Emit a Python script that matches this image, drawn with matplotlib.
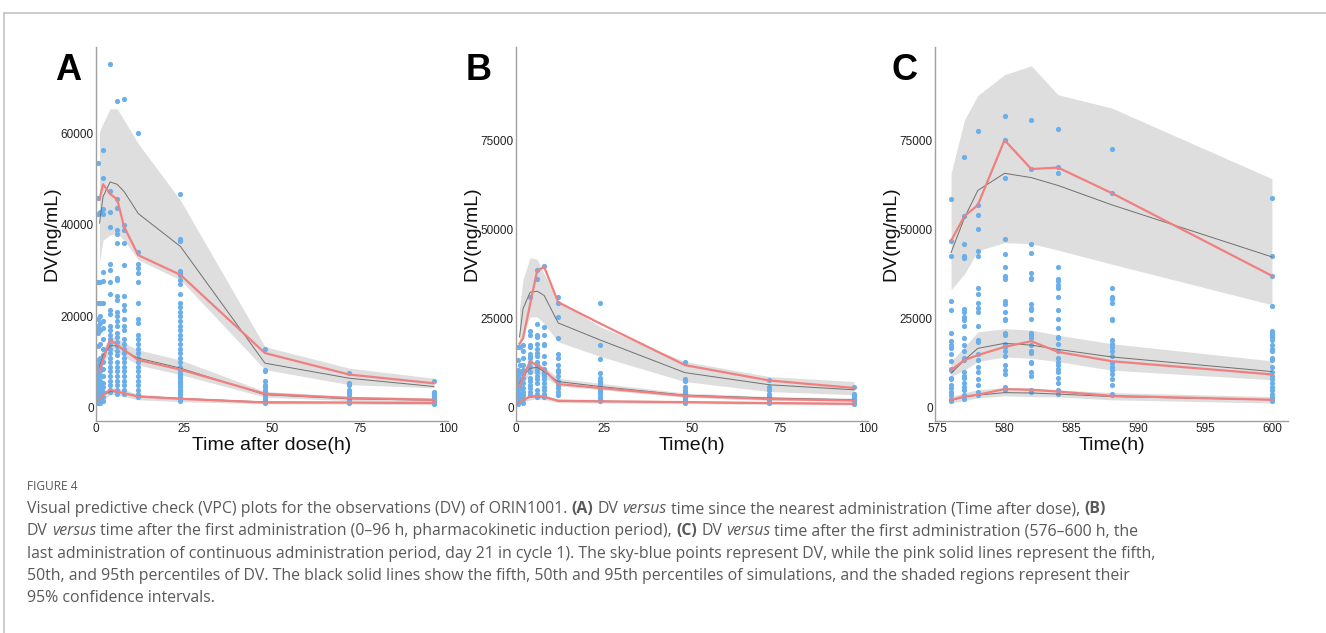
import re
import matplotlib
matplotlib.use("Agg")
import matplotlib.pyplot as plt
from matplotlib.lines import Line2D

plt.rcParams['font.family'] = ['Liberation Sans', 'DejaVu Sans']

# ---------------- Panel A data (time after dose) ----------------
a_obs_t = [0.5, 1, 2, 4, 6, 8, 12, 24, 48, 72, 96]
a_obs_v = [
    [53500, 46000, 42500, 27500, 23000, 19500, 18000, 17000, 16500, 13500, 10500, 9500, 8500, 7500,
     6500, 5500, 4500, 3500, 3000, 2500, 2000, 1500, 1200],
    [42800, 27500, 23000, 20000, 18500, 17000, 14000, 11000, 10000, 9000, 8000, 7000, 6000, 5000,
     4000, 3200, 2500, 1800, 1200],
    [56500, 50300, 43500, 42500, 29800, 27800, 23000, 19000, 17500, 15000, 13000, 11500, 10000, 8500,
     7000, 5500, 4500, 3500, 2500, 1500],
    [75200, 47500, 42800, 39500, 31500, 30200, 27600, 25000, 21500, 20500, 18000, 17000, 16000, 15000,
     14000, 13000, 12000, 11000, 10000, 9000, 8000, 7000, 6000, 5000, 4000, 3500],
    [67000, 45600, 43700, 38800, 38000, 36000, 28500, 28000, 24500, 23500, 21000, 20000, 19000, 18000,
     16500, 15500, 14500, 13500, 12500, 11500, 10000, 9000, 8000, 7000, 6000, 5000, 4000, 3000],
    [67500, 40000, 39000, 36000, 31300, 24500, 22500, 21500, 19500, 18000, 17000, 15000, 14000, 13000,
     12000, 11000, 10000, 9000, 8000, 7000, 6000, 5000, 4000, 3000],
    [60000, 34000, 31500, 30500, 29500, 27500, 23000, 19500, 18500, 16000, 15000, 14000, 13000, 12000,
     11000, 10000, 9000, 8000, 7000, 6000, 5000, 4000, 3000, 2500],
    [46800, 37000, 36500, 30000, 29500, 29000, 28000, 27000, 25000, 23000, 22000, 21000, 20000, 19000,
     18000, 17000, 16000, 15000, 14000, 13000, 12000, 11000, 10000, 9000, 8500, 8000, 7500, 7000, 6500,
     6000, 5500, 5000, 4500, 4000, 3500, 3000, 2500, 2000, 1500],
    [12800, 8300, 8000, 6000, 5000, 4500, 4000, 3500, 3000, 2500, 2000, 1500, 1000],
    [7700, 5500, 5000, 4000, 3500, 3000, 2500, 2000, 1500, 1000],
    [5800, 3600, 3300, 3000, 2600, 2300, 2000, 1700, 1400, 1100, 900],
]
a_bin_t = [1, 2, 4, 6, 8, 12, 24, 48, 72, 96]
a_p95_obs = [45600, 48900, 46800, 45600, 39600, 33400, 29100, 12000, 7300, 5400]
a_p95_sim = [40400, 46200, 49400, 48900, 47300, 42500, 35300, 9800, 6500, 4700]
a_p95_lo = [32000, 36700, 37800, 38200, 36700, 32400, 28000, 8400, 5100, 4400]
a_p95_hi = [60400, 62200, 65400, 65400, 62900, 57800, 45400, 13400, 8700, 6500]
a_p50_obs = [8000, 10500, 14900, 13800, 12700, 10500, 8400, 3100, 2200, 1800]
a_p50_sim = [9000, 11500, 13600, 13600, 12500, 10900, 8700, 2900, 2000, 1700]
a_p50_lo = [7500, 9500, 12400, 12300, 11200, 9400, 7300, 2400, 1600, 1300]
a_p50_hi = [10500, 13000, 15600, 15400, 14200, 12700, 10500, 3600, 2500, 2200]
a_p05_obs = [1800, 2800, 4000, 3600, 3200, 2500, 2000, 1200, 1200, 1100]
a_p05_sim = [2000, 2800, 3600, 3500, 3200, 2600, 2100, 1300, 1200, 1000]
a_p05_lo = [1200, 1800, 2900, 2800, 2500, 1800, 1400, 900, 850, 700]
a_p05_hi = [2800, 3600, 4400, 4300, 4000, 3000, 2400, 1600, 1450, 1300]

# ---------------- Panel B data (0-96 h) ----------------
b_obs_t = [0.5, 1, 2, 4, 6, 8, 12, 24, 48, 72, 96]
b_obs_v = [
    [17000, 13500, 10500, 10000, 9500, 9000, 8500, 8000, 7500, 7000, 6000, 5000, 4000, 3500, 3000,
     2500, 2000, 1500, 1000],
    [17000, 12000, 10000, 8000, 7000, 5500, 4000, 3000, 2000],
    [17500, 16000, 14000, 12000, 10500, 9500, 8500, 7000, 5500, 4500, 3500, 2500, 1500],
    [31000, 21500, 20500, 17500, 17000, 15000, 14500, 14000, 13000, 11500, 10000, 8500, 7500, 6500,
     5500, 4500, 3500],
    [38500, 36000, 23500, 20500, 20000, 18000, 16500, 15500, 14500, 13000, 12000, 11000, 10000, 9000,
     8000, 7000, 5000, 4000, 3000],
    [39700, 22600, 20500, 18000, 17500, 14500, 12500, 11000, 10000, 9500, 9000, 8000, 7000, 6000,
     5000, 4000, 3000],
    [31000, 29500, 25500, 19500, 15000, 14000, 12000, 10500, 10000, 9000, 7500, 6500, 5500, 4500, 3500],
    [29400, 17500, 13700, 9700, 8400, 7500, 7000, 6500, 5500, 5000, 4500, 4000, 3000, 2500, 2000],
    [13000, 8000, 7500, 6000, 5000, 4500, 4000, 3500, 3000, 2500, 2000, 1500],
    [7700, 6000, 5000, 4000, 3500, 3000, 2500, 2000, 1500],
    [5800, 3800, 3500, 3000, 2500, 2000, 1500, 1200],
]
b_bin_t = [1, 2, 4, 6, 8, 12, 24, 48, 72, 96]
b_p95_obs = [18000, 19500, 29000, 38400, 39500, 29600, 23600, 12000, 7700, 5600]
b_p95_sim = [19900, 27800, 32400, 32700, 31500, 23800, 19000, 9900, 6500, 5100]
b_p95_lo = [15700, 20800, 25500, 25500, 23600, 18500, 14400, 7400, 4600, 3700]
b_p95_hi = [28000, 36000, 42100, 41600, 37500, 30100, 22700, 13000, 8800, 7400]
b_p50_obs = [6000, 8800, 13000, 12000, 10700, 6700, 5600, 3400, 2500, 2100]
b_p50_sim = [6900, 9000, 11100, 11400, 10200, 7400, 6000, 3600, 2800, 2300]
b_p50_lo = [5100, 7000, 9700, 9700, 8800, 6200, 5100, 3000, 2100, 1800]
b_p50_hi = [8800, 10500, 12500, 12800, 11600, 8300, 6900, 4200, 3200, 2800]
b_p05_obs = [1400, 2300, 3200, 3400, 3100, 2000, 1850, 1650, 1400, 1200]
b_p05_sim = [1500, 2300, 3000, 3200, 3000, 2100, 1900, 1600, 1300, 1150]
b_p05_lo = [1000, 1500, 2300, 2500, 2300, 1500, 1400, 1200, 950, 850]
b_p05_hi = [2100, 2900, 3700, 3900, 3700, 2600, 2400, 2000, 1700, 1500]

# ---------------- Panel C data (576-600 h) ----------------
c_obs_t = [576, 577, 578, 580, 582, 584, 588, 600]
c_obs_v = [
    [58500, 46800, 42500, 30000, 27500, 21000, 18700, 17500, 16800, 15000, 13200, 11000, 10500, 8500,
     8000, 6500, 5500, 4500, 3500, 2500, 2000],
    [70200, 53700, 46000, 42500, 42000, 27700, 27000, 25500, 24500, 23000, 19700, 17700, 16000, 14000,
     13500, 10000, 9000, 8500, 7000, 6000, 5000, 3500, 2500],
    [77600, 56800, 53900, 50200, 44000, 42500, 33500, 32000, 29500, 28000, 27000, 23000, 19000, 18500,
     15000, 13500, 11500, 10000, 8000, 6500, 4500, 3500],
    [81800, 75100, 64500, 47200, 43000, 39500, 37000, 36000, 30000, 29000, 27000, 25000, 24500, 21000,
     20500, 18000, 17000, 16000, 14500, 12000, 10500, 9500, 6000, 5000],
    [80500, 66800, 45800, 43500, 37700, 36500, 36000, 29000, 28000, 27500, 25000, 21000, 20500, 19500,
     17500, 16000, 15500, 13000, 12500, 10000, 9000, 5000, 4500],
    [78000, 67400, 65700, 39500, 36000, 35500, 34500, 33500, 31000, 27500, 25000, 22500, 20000, 19500,
     18000, 16000, 14000, 13000, 12000, 11000, 10000, 8500, 7000, 5000, 4000],
    [72500, 60200, 33600, 31000, 30500, 29500, 25000, 24500, 19000, 18000, 17000, 16000, 14500, 12500,
     11500, 10500, 9500, 8000, 6500, 4000, 3500],
    [58800, 42500, 37000, 28500, 21500, 21000, 20500, 20000, 19000, 17500, 16500, 16000, 14000, 13500,
     11500, 10000, 9000, 8000, 7000, 6000, 5000, 4000, 3000, 2500, 2000],
]
c_bin_t = [576, 577, 578, 580, 582, 584, 588, 600]
c_p95_obs = [46800, 53700, 56800, 75000, 66900, 67300, 60200, 37000]
c_p95_sim = [43500, 53200, 60900, 65700, 64500, 62300, 56900, 42300]
c_p95_lo = [33100, 37500, 44000, 46300, 46000, 44200, 40300, 28900]
c_p95_hi = [65700, 80600, 87500, 93300, 95800, 87700, 84000, 64200]
c_p50_obs = [10600, 13400, 14800, 17100, 18700, 15700, 13100, 9400]
c_p50_sim = [9700, 13400, 16700, 18100, 17600, 16400, 14300, 10200]
c_p50_lo = [8800, 10600, 13000, 14300, 13900, 13000, 10600, 7900]
c_p50_hi = [13000, 17100, 21300, 22200, 21800, 20400, 18000, 13200]
c_p05_obs = [2300, 3200, 3700, 5300, 5100, 4600, 3400, 2300]
c_p05_sim = [2100, 3100, 3600, 4300, 4200, 3900, 3200, 2300]
c_p05_lo = [1400, 2100, 2800, 3400, 3200, 3100, 2300, 1400]
c_p05_hi = [3100, 4300, 5100, 5700, 5600, 5100, 4300, 3200]

# ---------------- Axis texts ----------------
panel_letters = ["A", "B", "C"]
x_titles = ["Time after dose(h)", "Time(h)", "Time(h)"]
y_title = "DV(ng/mL)"
a_yticks = [0, 20000, 40000, 60000]
bc_yticks = [0, 25000, 50000, 75000]
ab_xticks = [0, 25, 50, 75, 100]
c_xticks = [575, 580, 585, 590, 595, 600]

caption_head = "FIGURE 4"
caption_lines = [
    "Visual predictive check (VPC) plots for the observations (DV) of ORIN1001. **(A)** DV *versus* time since the nearest administration (Time after dose), **(B)**",
    "DV *versus* time after the first administration (0\u201396 h, pharmacokinetic induction period), **(C)** DV *versus* time after the first administration (576\u2013600 h, the",
    "last administration of continuous administration period, day 21 in cycle 1). The sky-blue points represent DV, while the pink solid lines represent the fifth,",
    "50th, and 95th percentiles of DV. The black solid lines show the fifth, 50th and 95th percentiles of simulations, and the shaded regions represent their",
    "95% confidence intervals.",
]

# ---------------- Figure ----------------
W, H = 1326, 633
fig = plt.figure(figsize=(W / 100, H / 100), dpi=100)

PT_COL = "#6aaeea"
OBS_COL = "#f08080"
SIM_COL = "#707070"
RIB_COL = "#dedede"
SPINE_COL = "#a0a0a0"


def add_axes_px(l, r, t, b):
    return fig.add_axes([l / W, 1 - b / H, (r - l) / W, (b - t) / H])


def draw_panel(ax, obs_t, obs_v, bt, bands, xlim, ylim, xticks, yticks, xtitle):
    for (lo, hi, sim, obs) in bands:
        ax.fill_between(bt, lo, hi, color=RIB_COL, lw=0, zorder=1)
    for t, vals in zip(obs_t, obs_v):
        ax.scatter([t] * len(vals), vals, s=14, color=PT_COL, lw=0, zorder=2)
    for (lo, hi, sim, obs) in bands:
        ax.plot(bt, sim, color=SIM_COL, lw=0.7, zorder=3)
        ax.plot(bt, obs, color=OBS_COL, lw=1.6, zorder=4)
    ax.set_xlim(*xlim)
    ax.set_ylim(*ylim)
    ax.set_xticks(xticks)
    ax.set_yticks(yticks)
    ax.set_xticklabels([str(v) for v in xticks])
    ax.set_yticklabels([str(v) for v in yticks])
    ax.tick_params(length=0, labelsize=8.5, colors="#222222", pad=1.5)
    for s in ["top", "right"]:
        ax.spines[s].set_visible(False)
    for s in ["left", "bottom"]:
        ax.spines[s].set_color(SPINE_COL)
        ax.spines[s].set_linewidth(1.0)
    ax.set_facecolor("none")
    ax.set_xlabel(xtitle, fontsize=14, color="#111111")
    ax.xaxis.set_label_coords(0.5, -0.065)
    ax.xaxis.label.set_va("center")
    ax.set_ylabel(y_title, fontsize=14, color="#111111")
    ax.yaxis.set_label_coords(-0.125, 0.5)
    ax.yaxis.label.set_va("center")
    ax.yaxis.label.set_ha("center")


axA = add_axes_px(96, 448, 47, 421)
axB = add_axes_px(516, 868, 47, 421)
axC = add_axes_px(935, 1288, 47, 421)

draw_panel(axA, a_obs_t, a_obs_v, a_bin_t,
           [(a_p95_lo, a_p95_hi, a_p95_sim, a_p95_obs),
            (a_p50_lo, a_p50_hi, a_p50_sim, a_p50_obs),
            (a_p05_lo, a_p05_hi, a_p05_sim, a_p05_obs)],
           (0, 100), (-2842, 78907), ab_xticks, a_yticks, x_titles[0])
draw_panel(axB, b_obs_t, b_obs_v, b_bin_t,
           [(b_p95_lo, b_p95_hi, b_p95_sim, b_p95_obs),
            (b_p50_lo, b_p50_hi, b_p50_sim, b_p50_obs),
            (b_p05_lo, b_p05_hi, b_p05_sim, b_p05_obs)],
           (0, 100), (-3640, 101060), ab_xticks, bc_yticks, x_titles[1])
draw_panel(axC, c_obs_t, c_obs_v, c_bin_t,
           [(c_p95_lo, c_p95_hi, c_p95_sim, c_p95_obs),
            (c_p50_lo, c_p50_hi, c_p50_sim, c_p50_obs),
            (c_p05_lo, c_p05_hi, c_p05_sim, c_p05_obs)],
           (574.8, 601.2), (-3640, 101060), c_xticks, bc_yticks, x_titles[2])

# panel letters
for letter, xpx in zip(panel_letters, [55, 466, 891]):
    fig.text(xpx / W, 1 - 80 / H, letter, fontsize=26, fontweight="bold",
             ha="left", va="baseline", color="black")

# frame lines (top and left)
fig.add_artist(Line2D([4 / W, 1.0], [1 - 13 / H, 1 - 13 / H], transform=fig.transFigure,
                      color="#c4c4c4", lw=1.2))
fig.add_artist(Line2D([4 / W, 4 / W], [1 - 13 / H, 0.0], transform=fig.transFigure,
                      color="#c4c4c4", lw=1.2))

# caption
CAP_FONT = ["Open Sans", "DejaVu Sans"]
CAP_COL = "#595959"
CAP_SIZE = 11.4
fig.text(27 / W, 1 - 487 / H, caption_head, fontsize=8.6, color="#555555",
         family=CAP_FONT, ha="left", va="center")

renderer = fig.canvas.get_renderer()


def text_width(s, **kw):
    t = fig.text(0, 0, s, **kw)
    w = t.get_window_extent(renderer).width
    t.remove()
    return w


space_w = (text_width("a a", fontsize=CAP_SIZE, family=CAP_FONT)
           - text_width("aa", fontsize=CAP_SIZE, family=CAP_FONT))


def rich_line(s, xpx, ypx):
    parts = re.split(r"(\*\*.+?\*\*|\*.+?\*)", s)
    x = xpx
    for p in parts:
        if p == "":
            continue
        kw = dict(fontsize=CAP_SIZE, family=CAP_FONT, color=CAP_COL)
        if p.startswith("**"):
            txt = p[2:-2]
            kw["fontweight"] = "bold"
        elif p.startswith("*"):
            txt = p[1:-1]
            kw["fontstyle"] = "italic"
        else:
            txt = p
        lead = len(txt) - len(txt.lstrip(" "))
        trail = len(txt) - len(txt.rstrip(" "))
        core = txt.strip(" ")
        x += lead * space_w
        if core:
            t = fig.text(x / W, 1 - ypx / H, core, ha="left", va="center", **kw)
            x += t.get_window_extent(renderer).width
        x += trail * space_w


for i, line in enumerate(caption_lines):
    rich_line(line, 27, 509 + i * 22.3)

fig.savefig("out.png", dpi=100)
